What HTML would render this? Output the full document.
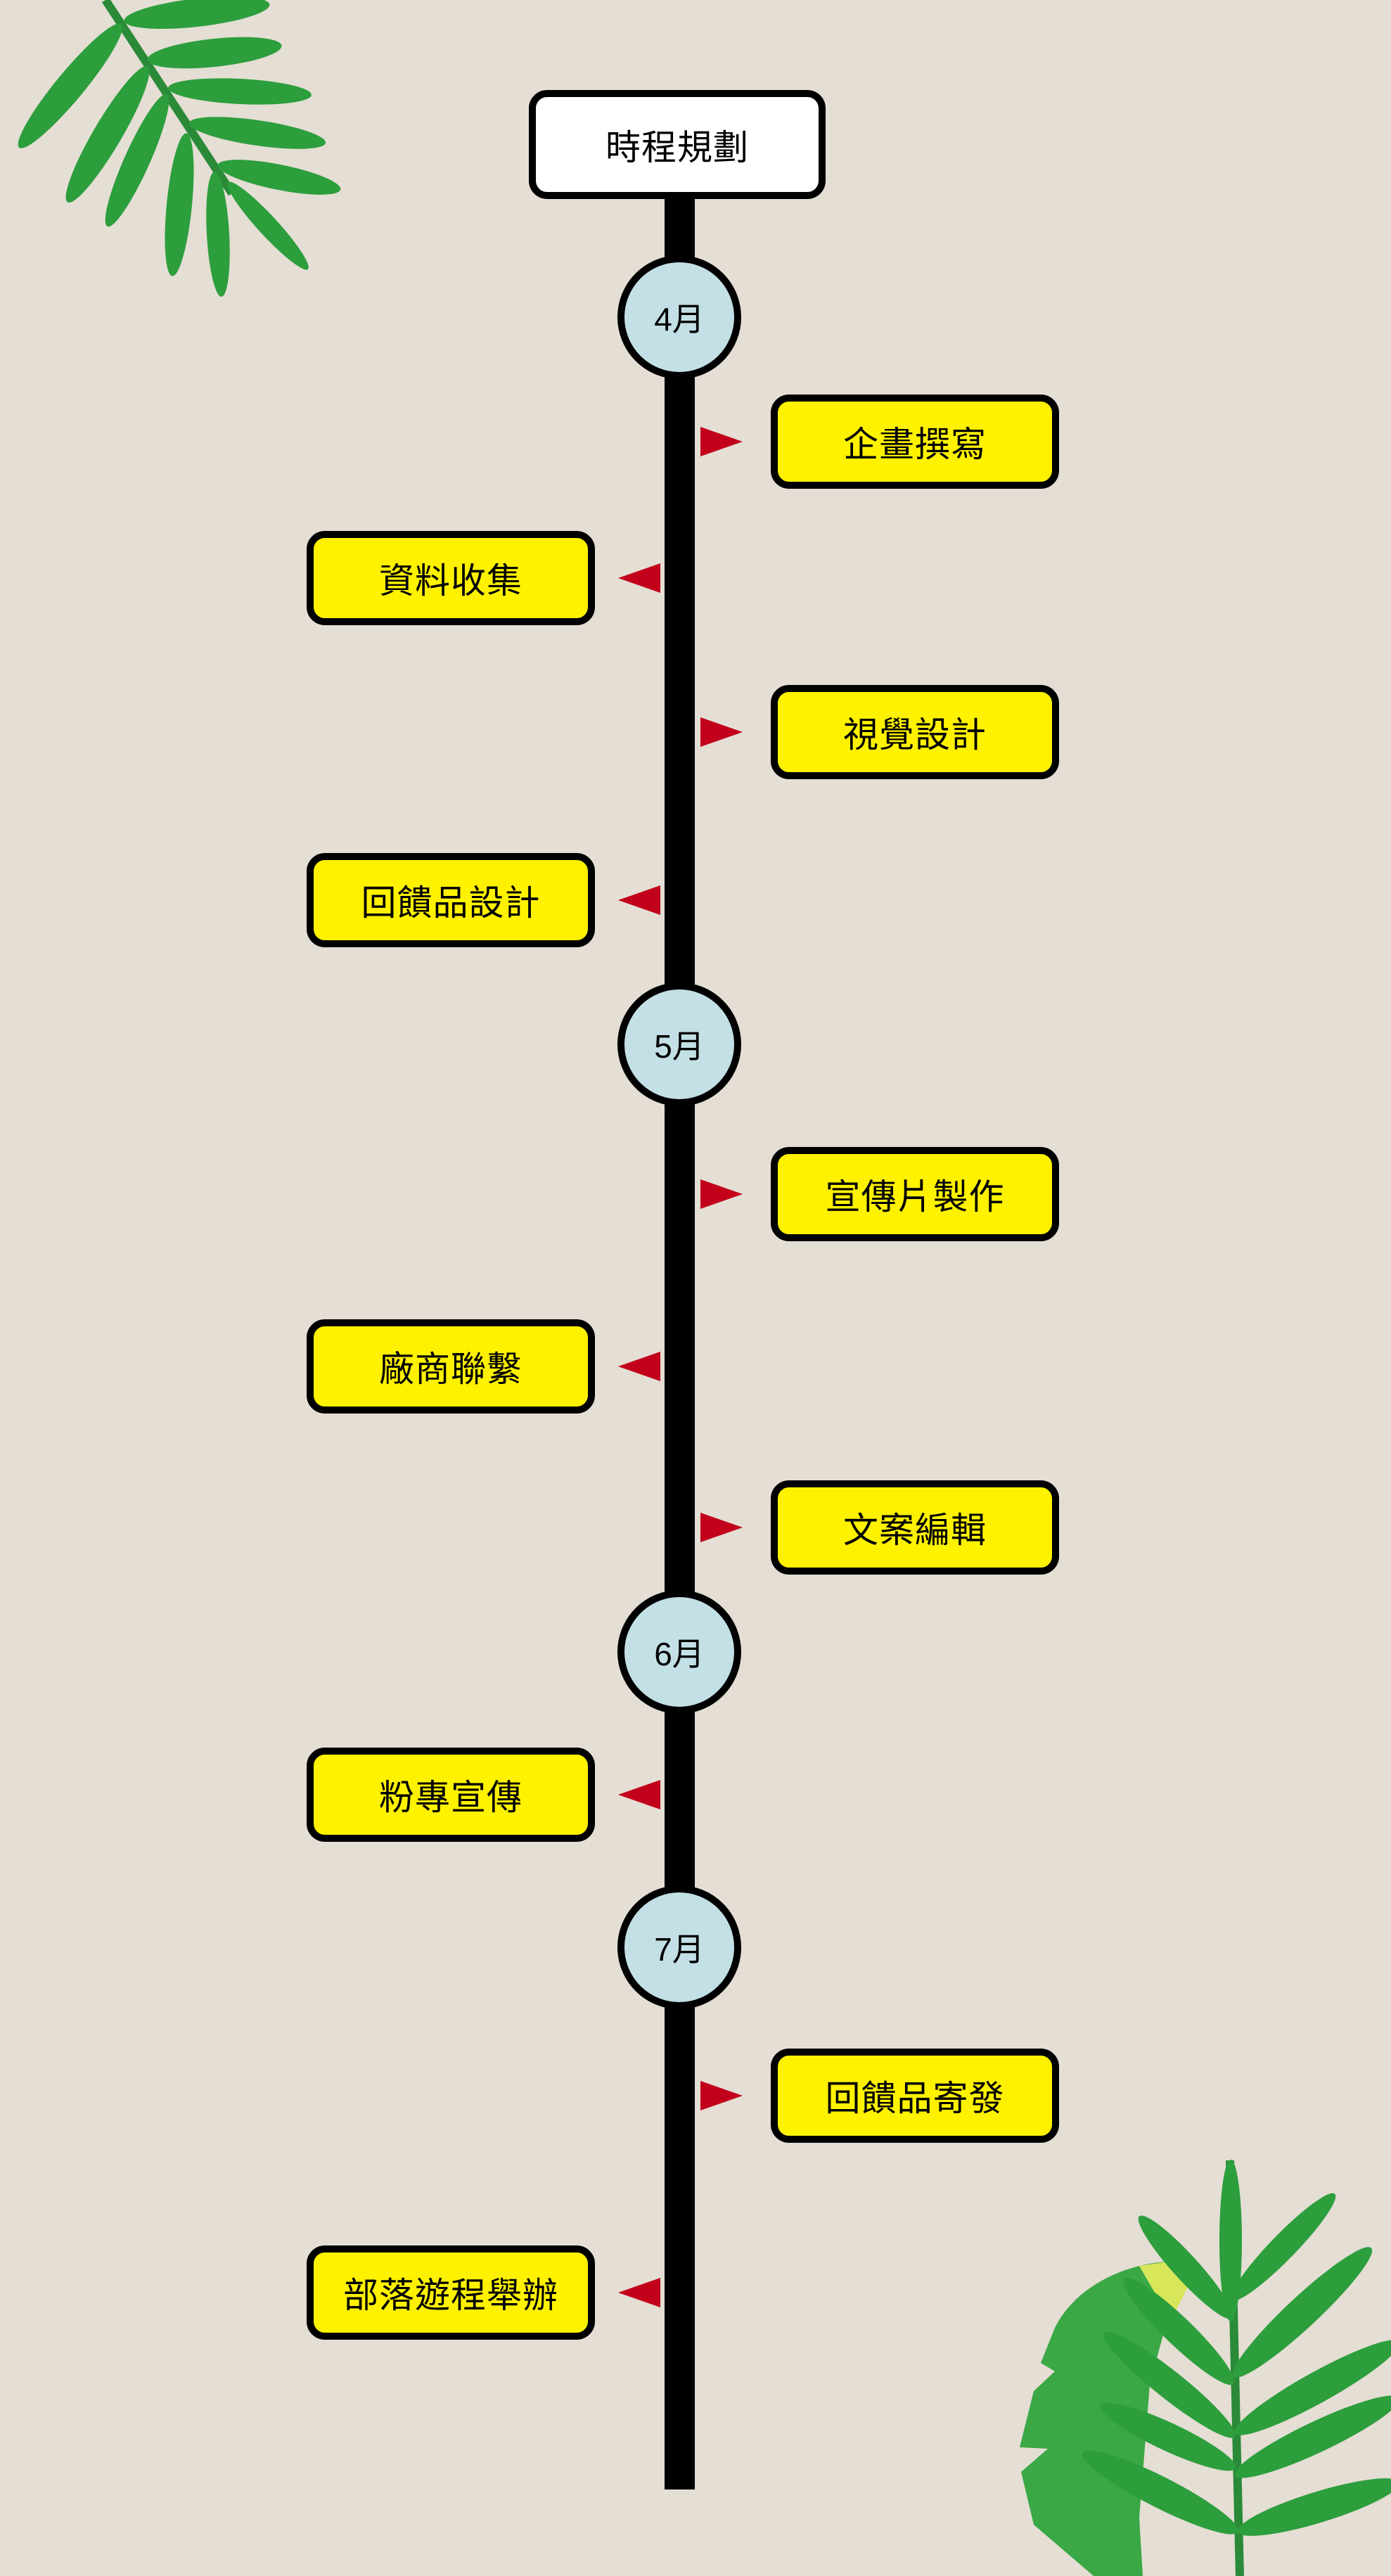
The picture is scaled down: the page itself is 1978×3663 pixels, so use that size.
<!DOCTYPE html>
<html><head><meta charset="utf-8">
<style>
html,body{margin:0;padding:0}
body{width:1978px;height:3663px;background:#e4ded4;position:relative;overflow:hidden;font-family:"Liberation Sans","Noto Sans CJK TC",sans-serif}
.line{position:absolute;left:945px;width:43px;top:270px;height:3270px;background:#000}
.box{position:absolute;box-sizing:border-box;border:10px solid #000;border-radius:26px;background:#fff200;display:flex;align-items:center;justify-content:center;font-size:50px;color:#000;width:410px;height:134px;letter-spacing:1px}
.title{left:752px;top:128px;width:422px;height:155px;background:#fff}
.r{left:1096px}.l{left:436px}
.c{position:absolute;box-sizing:border-box;width:176px;height:176px;border:10px solid #000;border-radius:50%;background:#c3e0e6;left:878px;display:flex;align-items:center;justify-content:center;font-size:46px}
.ar{position:absolute;width:0;height:0;border-top:21px solid transparent;border-bottom:21px solid transparent}
.ar.r{left:996px;border-left:60px solid #c2001b}
.ar.l{left:879px;border-right:60px solid #c2001b}
svg{position:absolute;left:0;top:0}
</style></head><body>
<svg width="1978" height="3663">
<g fill="#2c9e3c">
<line x1="150" y1="0" x2="330" y2="275" stroke="#2a8a38" stroke-width="12"/>
<ellipse cx="280" cy="18" rx="104" ry="20" transform="rotate(-6.4 280 18)"/>
<ellipse cx="305" cy="75" rx="96" ry="20" transform="rotate(-6 305 75)"/>
<ellipse cx="341" cy="130" rx="102" ry="18" transform="rotate(2.8 341 130)"/>
<ellipse cx="366" cy="189" rx="98" ry="18" transform="rotate(8.3 366 189)"/>
<ellipse cx="397" cy="252" rx="89" ry="18" transform="rotate(11.3 397 252)"/>
<ellipse cx="381" cy="321" rx="84" ry="14" transform="rotate(47.4 381 321)"/>
<ellipse cx="100" cy="122" rx="114" ry="20" transform="rotate(129.6 100 122)"/>
<ellipse cx="153" cy="191" rx="112" ry="20" transform="rotate(120.5 153 191)"/>
<ellipse cx="195" cy="228" rx="103" ry="18" transform="rotate(114.2 195 228)"/>
<ellipse cx="255" cy="291" rx="102" ry="18" transform="rotate(95.6 255 291)"/>
<ellipse cx="310" cy="333" rx="89" ry="16" transform="rotate(86.8 310 333)"/>
</g>
<path d="M1658,3216 C1600,3220 1530,3250 1500,3310 L1480,3360 L1500,3372 L1470,3400 L1450,3480 L1490,3482 L1452,3515 L1470,3590 L1555,3663 L1625,3663 L1620,3580 L1628,3480 L1635,3390 L1665,3280 Z" fill="#3aa845"/>
<path d="M1620,3222 L1660,3216 L1690,3250 L1665,3300 Z" fill="#d8e65a"/>
<g fill="#2c9e3c">
<line x1="1749" y1="3072" x2="1763" y2="3663" stroke="#2a8a38" stroke-width="12"/>
<ellipse cx="1750" cy="3186" rx="16" ry="115"/>
<ellipse cx="1686" cy="3224" rx="98" ry="18" transform="rotate(47.7 1686 3224)"/>
<ellipse cx="1676" cy="3315" rx="108" ry="20" transform="rotate(43.9 1676 3315)"/>
<ellipse cx="1663" cy="3391" rx="119" ry="20" transform="rotate(38.5 1663 3391)"/>
<ellipse cx="1661" cy="3465" rx="106" ry="20" transform="rotate(25 1661 3465)"/>
<ellipse cx="1650" cy="3544" rx="124" ry="22" transform="rotate(27 1650 3544)"/>
<ellipse cx="1825" cy="3195" rx="105" ry="18" transform="rotate(-45.8 1825 3195)"/>
<ellipse cx="1852" cy="3288" rx="134" ry="22" transform="rotate(-43 1852 3288)"/>
<ellipse cx="1873" cy="3395" rx="134" ry="22" transform="rotate(-29 1873 3395)"/>
<ellipse cx="1873" cy="3465" rx="129" ry="22" transform="rotate(-25.3 1873 3465)"/>
<ellipse cx="1875" cy="3565" rx="120" ry="22" transform="rotate(-17 1875 3565)"/>
</g>
</svg>
<div class="line"></div>
<div class="box title">時程規劃</div>
<div class="c" style="top:363px">4月</div>
<div class="c" style="top:1397px">5月</div>
<div class="c" style="top:2261px">6月</div>
<div class="c" style="top:2681px">7月</div>

<div class="box r" style="top:561px">企畫撰寫</div><div class="ar r" style="top:607px"></div>
<div class="box l" style="top:755px">資料收集</div><div class="ar l" style="top:801px"></div>
<div class="box r" style="top:974px">視覺設計</div><div class="ar r" style="top:1020px"></div>
<div class="box l" style="top:1213px">回饋品設計</div><div class="ar l" style="top:1259px"></div>
<div class="box r" style="top:1631px">宣傳片製作</div><div class="ar r" style="top:1677px"></div>
<div class="box l" style="top:1876px">廠商聯繫</div><div class="ar l" style="top:1922px"></div>
<div class="box r" style="top:2105px">文案編輯</div><div class="ar r" style="top:2151px"></div>
<div class="box l" style="top:2485px">粉專宣傳</div><div class="ar l" style="top:2531px"></div>
<div class="box r" style="top:2913px">回饋品寄發</div><div class="ar r" style="top:2959px"></div>
<div class="box l" style="top:3193px">部落遊程舉辦</div><div class="ar l" style="top:3239px"></div>
</body></html>
